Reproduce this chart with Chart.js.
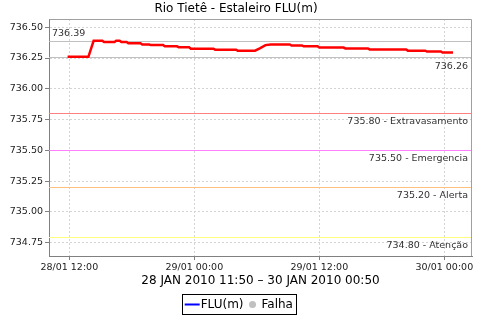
<!DOCTYPE html>
<html><head><meta charset="utf-8">
<script src="https://cdn.jsdelivr.net/npm/chart.js@4.4.0/dist/chart.umd.min.js"></script>
<style>html,body{margin:0;padding:0;background:#fff;}canvas{display:block;}</style>
</head><body>
<canvas id="c" width="480" height="320"></canvas>
<script>
const chartTitle = 'Rio Tietê - Estaleiro FLU(m)';
const axisTitle = '28 JAN 2010 11:50 – 30 JAN 2010 00:50';
const seriesName = 'FLU(m)';
const failName = 'Falha';

const times = [
  '28/01 11:50','28/01 13:50','28/01 14:20','28/01 15:10','28/01 15:20','28/01 16:20',
  '28/01 16:30','28/01 16:50','28/01 17:00','28/01 17:30','28/01 17:40','28/01 18:50',
  '28/01 19:00','28/01 19:40','28/01 19:50','28/01 21:00','28/01 21:10','28/01 22:20',
  '28/01 22:30','28/01 23:30','28/01 23:40','29/01 01:50','29/01 02:00','29/01 04:00',
  '29/01 04:10','29/01 05:50','29/01 06:20','29/01 06:50','29/01 07:20','29/01 09:10',
  '29/01 09:20','29/01 10:20','29/01 10:30','29/01 11:50','29/01 12:00','29/01 14:20',
  '29/01 14:30','29/01 16:40','29/01 16:50','29/01 20:20','29/01 20:30','29/01 22:10',
  '29/01 22:20','29/01 23:40','29/01 23:50','30/01 00:50'
];
const levels = [
  736.26, 736.26, 736.39, 736.39, 736.38, 736.38,
  736.39, 736.39, 736.38, 736.38, 736.37, 736.37,
  736.36, 736.36, 736.355, 736.355, 736.345, 736.345,
  736.338, 736.338, 736.326, 736.326, 736.318, 736.318,
  736.31, 736.31, 736.33, 736.355, 736.36, 736.36,
  736.352, 736.352, 736.345, 736.345, 736.335, 736.335,
  736.328, 736.328, 736.32, 736.32, 736.31, 736.31,
  736.303, 736.303, 736.295, 736.295
];
const xTickTimes = ['28/01 12:00','29/01 00:00','29/01 12:00','30/01 00:00'];
const yTickValues = [734.75, 735.00, 735.25, 735.50, 735.75, 736.00, 736.25, 736.50];
const thresholdValues = [735.80, 735.50, 735.20, 734.80];
const thresholdNames = ['Extravasamento', 'Emergencia', 'Alerta', 'Atenção'];

// hours since 28/01 00:00
function toHours(s) {
  const [d, t] = s.split(' ');
  const day = parseInt(d.split('/')[0], 10);
  const [h, m] = t.split(':').map(Number);
  return (day - 28) * 24 + h + m / 60;
}
function fmtHours(v) {
  const day = 28 + Math.floor(v / 24 + 1e-9);
  const rem = Math.round((v - (day - 28) * 24) * 60);
  const h = Math.floor(rem / 60), m = rem % 60;
  const p = n => String(n).padStart(2, '0');
  return p(day) + '/01 ' + p(h) + ':' + p(m);
}

const points = times.map((t, i) => ({x: toHours(t), y: levels[i]}));
const xTicks = xTickTimes.map(toHours);
const maxLevel = Math.max(...levels);
const minLevel = Math.min(...levels);

const FONT = '"DejaVu Sans", sans-serif';

const decor = {
  id: 'decor',
  lineColors: ['#ff8080', '#ff80ff', '#ffc080', '#ffff80'],
  extremeColor: '#c0c0c0',
  labelColor: '#333333',
  legendLine: '#0000ff',
  failColor: '#c0c0c0',
  beforeDraw(chart) {
    const ctx = chart.ctx;
    ctx.save(); ctx.fillStyle = '#fff'; ctx.fillRect(0, 0, chart.width, chart.height); ctx.restore();
  },
  beforeDatasetsDraw(chart) {
    const {ctx, chartArea: a, scales: {y}} = chart;
    ctx.save();
    ctx.lineWidth = 1;
    ctx.font = '9.5px ' + FONT;
    ctx.fillStyle = this.labelColor;
    const hline = (v, color) => {
      const py = Math.round(y.getPixelForValue(v)) + 0.5;
      ctx.strokeStyle = color;
      ctx.beginPath(); ctx.moveTo(a.left, py); ctx.lineTo(a.right, py); ctx.stroke();
      return py;
    };
    thresholdValues.forEach((v, i) => {
      const py = hline(v, this.lineColors[i]);
      ctx.textAlign = 'right'; ctx.textBaseline = 'middle';
      ctx.fillText(v.toFixed(2) + ' - ' + thresholdNames[i], a.right - 4, py + 8);
    });
    let py = hline(maxLevel, this.extremeColor);
    ctx.textAlign = 'left'; ctx.textBaseline = 'middle';
    ctx.fillText(maxLevel.toFixed(2), a.left + 3, py - 8);
    py = hline(minLevel, this.extremeColor);
    ctx.textAlign = 'right';
    ctx.fillText(minLevel.toFixed(2), a.right - 4, py + 9);
    ctx.restore();
  },
  afterDraw(chart) {
    const {ctx, chartArea: a} = chart;
    ctx.save();
    ctx.strokeStyle = '#a0a0a0'; ctx.lineWidth = 1;
    ctx.beginPath();
    ctx.moveTo(Math.round(a.left) + 0.5, Math.round(a.top) + 0.5);
    ctx.lineTo(Math.round(a.right) - 0.5, Math.round(a.top) + 0.5);
    ctx.lineTo(Math.round(a.right) - 0.5, Math.round(a.bottom));
    ctx.stroke();
    // legend
    ctx.font = '12px ' + FONT;
    const w1 = ctx.measureText(seriesName).width, w2 = ctx.measureText(failName).width;
    const total = 2.7 + 15 + 1 + w1 + 5.5 + 7 + 5.5 + w2 + 3;
    const left = Math.round(chart.width / 2 - 1.5 - total / 2);
    const top = 294.5, h = 20, cy = top + h / 2;
    ctx.strokeStyle = '#000';
    ctx.strokeRect(left + 0.5, top, Math.round(total), h);
    ctx.strokeStyle = this.legendLine; ctx.lineWidth = 2;
    ctx.beginPath(); ctx.moveTo(left + 2.7, cy); ctx.lineTo(left + 17.7, cy); ctx.stroke();
    ctx.fillStyle = '#000'; ctx.textAlign = 'left'; ctx.textBaseline = 'middle';
    ctx.fillText(seriesName, left + 18.7, cy);
    const cx = left + 18.7 + w1 + 5.5 + 3.5;
    ctx.fillStyle = this.failColor;
    ctx.beginPath(); ctx.arc(cx, cy, 3.5, 0, Math.PI * 2); ctx.fill();
    ctx.fillStyle = '#000';
    ctx.fillText(failName, cx + 9, cy);
    ctx.restore();
  }
};

new Chart(document.getElementById('c'), {
  type: 'line',
  data: {
    datasets: [{
      label: seriesName,
      data: points,
      borderColor: '#ff0000',
      backgroundColor: '#ff0000',
      borderWidth: 2.5,
      pointRadius: 0,
      tension: 0,
      fill: false
    }]
  },
  options: {
    responsive: false,
    animation: false,
    devicePixelRatio: 1,
    layout: {padding: {left: 0, right: 8, top: 0, bottom: 32}},
    plugins: {
      legend: {display: false},
      tooltip: {enabled: false},
      title: {
        display: true, text: chartTitle, color: '#000',
        font: {family: FONT, size: 12, weight: 'normal'},
        padding: {top: 2, bottom: 2.6}
      }
    },
    scales: {
      x: {
        type: 'linear',
        min: 10.05, max: 50.66,
        afterBuildTicks: s => { s.ticks = xTicks.map(v => ({value: v})); },
        afterFit: s => { s.height = 32; },
        ticks: {
          autoSkip: false, maxRotation: 0, padding: 2, color: '#222',
          font: {family: FONT, size: 9.5},
          callback: v => fmtHours(v)
        },
        grid: {color: '#d4d4d4', tickColor: '#808080', tickLength: 4, lineWidth: 1},
        border: {color: '#808080', dash: [2, 2]},
        title: {
          display: true, text: axisTitle, color: '#000',
          font: {family: FONT, size: 12}, padding: {top: 0, bottom: 0}
        }
      },
      y: {
        type: 'linear',
        min: 734.642, max: 736.567,
        afterBuildTicks: s => { s.ticks = yTickValues.map(v => ({value: v})); },
        afterFit: s => { s.width = 49; },
        ticks: {
          autoSkip: false, padding: 2, color: '#222',
          font: {family: FONT, size: 9.5},
          callback: v => Number(v).toFixed(2)
        },
        grid: {color: '#d4d4d4', tickColor: '#808080', tickLength: 4, lineWidth: 1},
        border: {color: '#808080', dash: [2, 2]}
      }
    }
  },
  plugins: [decor]
});
</script>
</body></html>
